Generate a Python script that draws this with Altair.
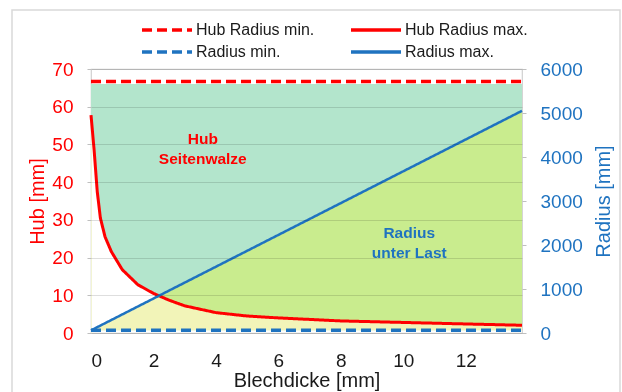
import altair as alt
import pandas as pd

# ---- data ----
x_hub = [0, 0.1, 0.2, 0.3, 0.45, 0.65, 1.0, 1.5, 2.0, 2.5, 3.0, 4.0, 5.0, 6.0, 8.0, 10.0, 12.0, 13.8]
hub_max = [57.8, 48.5, 37.5, 30.5, 25.5, 21.6, 16.8, 12.8, 10.5, 8.7, 7.2, 5.4, 4.5, 4.0, 3.2, 2.8, 2.4, 2.05]
hub_min = 66.7
hub_fill_top = 66.0
x_ends = [0, 13.8]
radius_max = [60, 5050]
radius_min = 65

series = ["Hub Radius min.", "Hub Radius max.", "Radius min.", "Radius max."]
series_colors = ["#ff0000", "#ff0000", "#1f73c0", "#1f73c0"]
series_dashes = [[10, 5], [1, 0], [10, 5], [1, 0]]

x_ticks = [0, 2, 4, 6, 8, 10, 12]
hub_ticks = [0, 10, 20, 30, 40, 50, 60, 70]
radius_ticks = [0, 1000, 2000, 3000, 4000, 5000, 6000]

hub_label_x = [3.58, 3.58]
hub_label_y = [51.5, 46.2]
hub_label_text = ["Hub", "Seitenwalze"]
rad_label_x = [10.19, 10.19]
rad_label_y = [2270, 1820]
rad_label_text = ["Radius", "unter Last"]

RED = "#ff0000"
BLUE = "#1f73c0"
FONT = "Liberation Sans"

# ---- tables ----
hub_df = pd.DataFrame({"x": x_hub, "hub": hub_max, "top": hub_fill_top, "zero": 0.0,
                       "series": "Hub Radius max."})
hubmin_df = pd.DataFrame({"x": x_ends, "hub": [hub_min] * 2, "series": "Hub Radius min."})
rad_df = pd.DataFrame({"x": x_ends, "r": radius_max, "rmin": [radius_min] * 2, "series": "Radius max."})
radmin_df = pd.DataFrame({"x": x_ends, "r": [radius_min] * 2, "series": "Radius min."})
hub_txt = pd.DataFrame({"x": hub_label_x, "y": hub_label_y, "t": hub_label_text})
rad_txt = pd.DataFrame({"x": rad_label_x, "y": rad_label_y, "t": rad_label_text})

xs = alt.Scale(domain=[0, 13.8], nice=False, zero=False)
yl = alt.Scale(domain=[0, 70], nice=False)
yr = alt.Scale(domain=[0, 6000], nice=False)

x_axis = alt.Axis(values=x_ticks, title="Blechdicke [mm]", grid=False, domain=False, ticks=False,
                  labelFontSize=19, titleFontSize=20, labelColor="#1a1a1a", titleColor="#1a1a1a",
                  labelPadding=18, titlePadding=0, titleFontWeight="normal")
X = alt.X("x:Q", scale=xs, axis=x_axis)

left_axis = alt.Axis(orient="left", values=hub_ticks, title="Hub [mm]", grid=True,
                     gridColor="#000000", gridOpacity=0.13, domain=False, tickSize=4,
                     tickColor="#bfbfbf", labelColor=RED, labelFontSize=19, titleColor=RED,
                     titleFontSize=20, titleFontWeight="normal", labelPadding=14, titlePadding=4,
                     zindex=1)
right_axis = alt.Axis(orient="right", values=radius_ticks, format="d", title="Radius [mm]", grid=False,
                      domain=False, tickSize=4, tickColor="#bfbfbf", labelColor=BLUE,
                      labelFontSize=19, titleColor=BLUE, titleFontSize=20, titleAngle=270,
                      titleBaseline="top", titleFontWeight="normal", labelPadding=14, titlePadding=11)

color_enc = alt.Color("series:N", scale=alt.Scale(domain=series, range=series_colors),
                      legend=alt.Legend(title=None))
dash_enc = alt.StrokeDash("series:N", scale=alt.Scale(domain=series, range=series_dashes),
                          legend=alt.Legend(title=None))

teal = alt.Chart(hub_df).mark_area(color="#b3e5cc", opacity=1).encode(
    x=X, y=alt.Y("hub:Q", scale=yl, axis=left_axis), y2="top:Q")

green = alt.Chart(rad_df).mark_area(color="#c9ec8e", opacity=1).encode(
    x=X, y=alt.Y("r:Q", scale=yr, axis=right_axis), y2="rmin:Q")

# pale region under the hub curve: 'lighten' keeps white where nothing is below it
pale = alt.Chart(hub_df).mark_area(color="#f2f4b8", opacity=1, blend="lighten").encode(
    x=X, y=alt.Y("hub:Q", scale=yl, axis=None), y2="zero:Q")

hubmin_line = alt.Chart(hubmin_df).mark_line(strokeWidth=3.5).encode(
    x=X, y=alt.Y("hub:Q", scale=yl, axis=None), color=color_enc, strokeDash=dash_enc)

hubmax_line = alt.Chart(hub_df).mark_line(strokeWidth=3).encode(
    x=X, y=alt.Y("hub:Q", scale=yl, axis=None), color=color_enc, strokeDash=dash_enc)

radmin_line = alt.Chart(radmin_df).mark_line(strokeWidth=3.5).encode(
    x=X, y=alt.Y("r:Q", scale=yr, axis=None), color=color_enc, strokeDash=dash_enc)

radmax_line = alt.Chart(rad_df).mark_line(strokeWidth=2.5).encode(
    x=X, y=alt.Y("r:Q", scale=yr, axis=None), color=color_enc, strokeDash=dash_enc)

hub_text = alt.Chart(hub_txt).mark_text(font=FONT, fontSize=15.5, fontWeight="bold", color=RED).encode(
    x=X, y=alt.Y("y:Q", scale=yl, axis=None), text="t:N")

rad_text = alt.Chart(rad_txt).mark_text(font=FONT, fontSize=15.5, fontWeight="bold", color=BLUE).encode(
    x=X, y=alt.Y("y:Q", scale=yr, axis=None), text="t:N")

frame = alt.Chart(pd.DataFrame({"a": [0]})).mark_rect(filled=False, stroke="#d9d9d9", strokeWidth=1.5).encode(
    x=alt.value(-79), x2=alt.value(529), y=alt.value(-59), y2=alt.value(340))

chart = alt.layer(
    teal, green, pale, hubmin_line, hubmax_line, radmin_line, radmax_line, hub_text, rad_text, frame
).resolve_scale(y="independent").properties(
    width=431, height=264,
    autosize=alt.AutoSizeParams(type="none"),
    padding={"left": 91, "top": 69, "right": 100, "bottom": 59},
    background="white",
).configure(font=FONT).configure_view(
    stroke="#d0d0d0", strokeWidth=1.2
).configure_legend(
    orient="none", legendX=66, legendY=-49, columns=2, direction="horizontal",
    columnPadding=29, rowPadding=4,
    symbolType="M-3.125,0L3.125,0", symbolSize=256, symbolStrokeWidth=3.5,
    labelFontSize=16, labelColor="#1a1a1a", labelFont=FONT, labelOffset=19, padding=0
)

chart.save("out.html", embed_options={"renderer": "svg", "actions": False})
